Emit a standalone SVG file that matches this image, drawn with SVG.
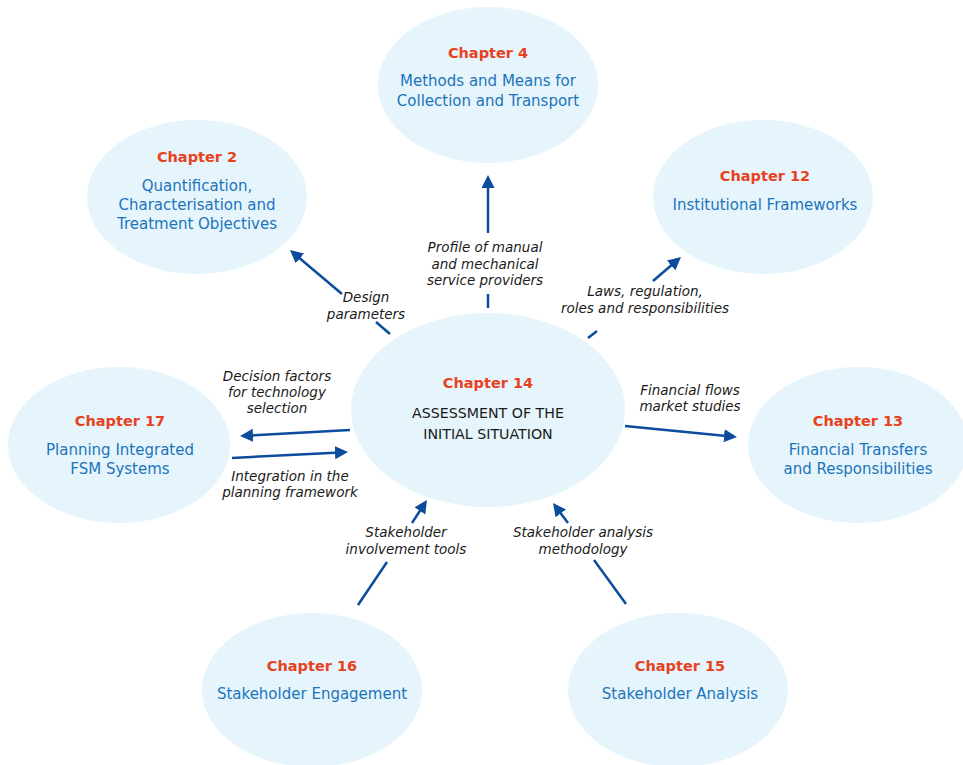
<svg xmlns="http://www.w3.org/2000/svg" width="963" height="765" viewBox="0 0 963 765">
<style>
.bg{fill:#E6F4FC;stroke:none}
.ch{font-family:"DejaVu Sans","Liberation Sans",sans-serif;font-size:14.5px;font-weight:bold;fill:#E8411E;text-anchor:middle}
.tt{font-family:"DejaVu Sans","Liberation Sans",sans-serif;font-size:15px;fill:#1B74BB;text-anchor:middle}
.tc{font-family:"DejaVu Sans","Liberation Sans",sans-serif;font-size:14.2px;fill:#1a1a1a;text-anchor:middle}
.lb{font-family:"DejaVu Sans","Liberation Sans",sans-serif;font-size:13.5px;font-style:italic;fill:#1a1a1a;text-anchor:middle}
.cn{stroke:#0B4C9C;stroke-width:2.5;fill:none}
</style>
<defs>
<marker id="ah" markerUnits="userSpaceOnUse" markerWidth="14" markerHeight="14" refX="5" refY="6.5" orient="auto">
<path d="M0,0 L13,6.5 L0,13 Z" fill="#0B4C9C"/>
</marker>
</defs>
<rect width="963" height="765" fill="#ffffff"/>

<g id="ch4">
<ellipse class="bg" cx="488" cy="85" rx="110" ry="78"/>
<text class="ch" x="488" y="58">Chapter 4</text>
<text class="tt" x="488" y="86">Methods and Means for</text>
<text class="tt" x="488" y="106">Collection and Transport</text>
</g>
<g id="ch2">
<ellipse class="bg" cx="197" cy="197" rx="110" ry="77"/>
<text class="ch" x="197" y="162">Chapter 2</text>
<text class="tt" x="197" y="191">Quantification,</text>
<text class="tt" x="197" y="210">Characterisation and</text>
<text class="tt" x="197" y="229">Treatment Objectives</text>
</g>
<g id="ch12">
<ellipse class="bg" cx="763" cy="197" rx="110" ry="77"/>
<text class="ch" x="765" y="181">Chapter 12</text>
<text class="tt" x="765" y="210">Institutional Frameworks</text>
</g>
<g id="ch14">
<ellipse class="bg" cx="488" cy="410" rx="137" ry="97"/>
<text class="ch" x="488" y="388">Chapter 14</text>
<text class="tc" x="488" y="418">ASSESSMENT OF THE</text>
<text class="tc" x="488" y="439">INITIAL SITUATION</text>
</g>
<g id="ch17">
<ellipse class="bg" cx="119" cy="445" rx="111" ry="78"/>
<text class="ch" x="120" y="426">Chapter 17</text>
<text class="tt" x="120" y="455">Planning Integrated</text>
<text class="tt" x="120" y="474">FSM Systems</text>
</g>
<g id="ch13">
<ellipse class="bg" cx="858" cy="445" rx="110" ry="78"/>
<text class="ch" x="858" y="426">Chapter 13</text>
<text class="tt" x="858" y="455">Financial Transfers</text>
<text class="tt" x="858" y="474">and Responsibilities</text>
</g>
<g id="ch16">
<ellipse class="bg" cx="312" cy="690" rx="110" ry="77"/>
<text class="ch" x="312" y="671">Chapter 16</text>
<text class="tt" x="312" y="699">Stakeholder Engagement</text>
</g>
<g id="ch15">
<ellipse class="bg" cx="678" cy="690" rx="110" ry="77"/>
<text class="ch" x="680" y="671">Chapter 15</text>
<text class="tt" x="680" y="699">Stakeholder Analysis</text>
</g>

<g id="connectors">
<line class="cn" x1="488" y1="308" x2="488" y2="294"/>
<line class="cn" x1="488" y1="233" x2="488" y2="183" marker-end="url(#ah)"/>
<line class="cn" x1="390" y1="334" x2="376" y2="322"/>
<line class="cn" x1="342" y1="294" x2="296.1" y2="255.2" marker-end="url(#ah)"/>
<line class="cn" x1="588" y1="338" x2="597" y2="331"/>
<line class="cn" x1="653" y1="281" x2="674.9" y2="262.2" marker-end="url(#ah)"/>
<line class="cn" x1="350" y1="430" x2="248" y2="435.6" marker-end="url(#ah)"/>
<line class="cn" x1="232" y1="458" x2="340" y2="452.4" marker-end="url(#ah)"/>
<line class="cn" x1="625" y1="426" x2="729" y2="436.2" marker-end="url(#ah)"/>
<line class="cn" x1="358" y1="605" x2="387" y2="562"/>
<line class="cn" x1="412" y1="523" x2="422.6" y2="506.7" marker-end="url(#ah)"/>
<line class="cn" x1="626" y1="604" x2="594" y2="560"/>
<line class="cn" x1="568" y1="523" x2="557.8" y2="509.4" marker-end="url(#ah)"/>
</g>

<g id="labels">
<text class="lb" x="485" y="252">Profile of manual</text>
<text class="lb" x="485" y="268.5">and mechanical</text>
<text class="lb" x="485" y="285">service providers</text>
<text class="lb" x="366" y="302">Design</text>
<text class="lb" x="366" y="318.5">parameters</text>
<text class="lb" x="645" y="296">Laws, regulation,</text>
<text class="lb" x="645" y="313">roles and responsibilities</text>
<text class="lb" x="277" y="381">Decision factors</text>
<text class="lb" x="277" y="397">for technology</text>
<text class="lb" x="277" y="413">selection</text>
<text class="lb" x="290" y="481">Integration in the</text>
<text class="lb" x="290" y="497">planning framework</text>
<text class="lb" x="690" y="395">Financial flows</text>
<text class="lb" x="690" y="411">market studies</text>
<text class="lb" x="406" y="537">Stakeholder</text>
<text class="lb" x="406" y="554">involvement tools</text>
<text class="lb" x="583" y="537">Stakeholder analysis</text>
<text class="lb" x="583" y="554">methodology</text>
</g>
</svg>
